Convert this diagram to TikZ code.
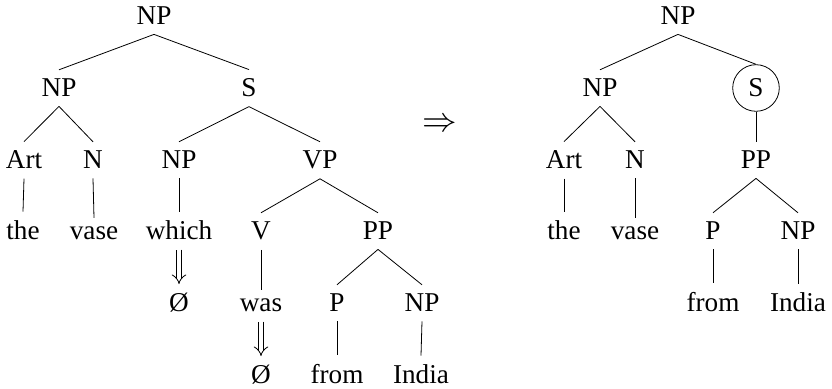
\documentclass[tikz,border=0pt]{standalone}
\usepackage{fontspec}
\setmainfont{Liberation Serif}
\usetikzlibrary{arrows.meta}

\begin{document}
\begin{tikzpicture}[x=0.5pt,y=-0.5pt,
        every node/.style={anchor=base,inner sep=4.5pt,font=\fontsize{13.6}{16}\selectfont},
        del/.style={double,double distance=2.2pt,-{Implies[length=4pt,width=7pt]}}]
        \useasboundingbox (0,0) rectangle (832,389);

        % 左边的树
        \node (np0) at (154,25) {NP};
        \node (np1) at (59,97) {NP};
        \node (s1) at (249,97) {S};
        \node (art1) at (24,169) {Art};
        \node (n1) at (93,169) {N};
        \node (np2) at (179,169) {NP};
        \node (vp1) at (320,169) {VP};
        \node (the1) at (23,240) {the};
        \node (vase1) at (94,240) {vase};
        \node (which1) at (179,240) {which};
        \node (v1) at (261,240) {V};
        \node (pp1) at (378,240) {PP};
        \node (null1) at (179,312) {Ø};
        \node (was1) at (261,312) {was};
        \node (p1) at (337,312) {P};
        \node (np3) at (422,312) {NP};
        \node (null2) at (261,384) {Ø};
        \node (from1) at (337,384) {from};
        \node (india1) at (421,384) {India};

        \draw (np0.south) -- (np1.north);
        \draw (np0.south) -- (s1.north);
        \draw (np1.south) -- (art1.north);
        \draw (np1.south) -- (n1.north);
        \draw (s1.south) -- (np2.north);
        \draw (s1.south) -- (vp1.north);
        \draw (art1.south) -- (the1.north);
        \draw (n1.south) -- (vase1.north);
        \draw (np2.south) -- (which1.north);
        \draw (vp1.south) -- (v1.north);
        \draw (vp1.south) -- (pp1.north);
        \draw (v1.south) -- (was1.north);
        \draw (pp1.south) -- (p1.north);
        \draw (pp1.south) -- (np3.north);
        \draw (p1.south) -- (from1.north);
        \draw (np3.south) -- (india1.north);
        \draw[del] (which1.south) -- (null1.north);
        \draw[del] (was1.south) -- (null2.north);

        % 变换箭头
        \node[anchor=center,font=\fontsize{16}{18}\selectfont] (goes) at (440,125) {$\Rightarrow$};

        % 右边的树
        \node (np4) at (678,25) {NP};
        \node (np5) at (600,97) {NP};
        \node[draw,circle,anchor=center,minimum size=23.3pt,inner sep=0pt] (s2) at (756,88) {S};
        \node (art2) at (564,169) {Art};
        \node (n2) at (635,169) {N};
        \node (pp2) at (756,169) {PP};
        \node (the2) at (564,240) {the};
        \node (vase2) at (635,240) {vase};
        \node (p2) at (713,240) {P};
        \node (np6) at (798,240) {NP};
        \node (from2) at (713,312) {from};
        \node (india2) at (798,312) {India};

        \draw (np4.south) -- (np5.north);
        \draw (np4.south) -- (s2.north);
        \draw (np5.south) -- (art2.north);
        \draw (np5.south) -- (n2.north);
        \draw (s2.south) -- (pp2.north);
        \draw (art2.south) -- (the2.north);
        \draw (n2.south) -- (vase2.north);
        \draw (pp2.south) -- (p2.north);
        \draw (pp2.south) -- (np6.north);
        \draw (p2.south) -- (from2.north);
        \draw (np6.south) -- (india2.north);
    \end{tikzpicture}
\end{document}
